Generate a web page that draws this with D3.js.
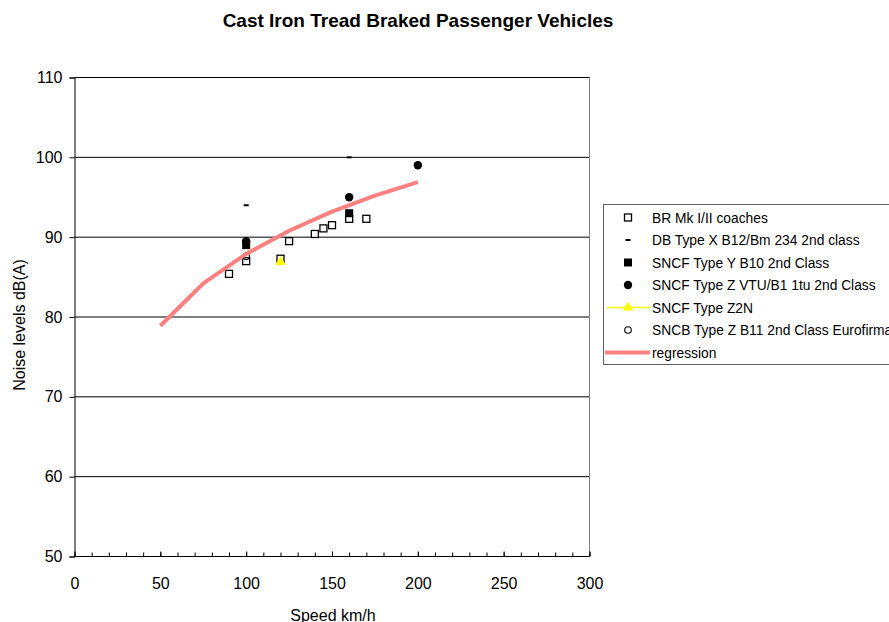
<!DOCTYPE html>
<html>
<head>
<meta charset="utf-8">
<script src="https://cdn.jsdelivr.net/npm/d3@7"></script>
<style>
  html, body { margin: 0; padding: 0; background: #fff; }
  svg { display: block; font-family: "Liberation Sans", Arial, sans-serif; }
</style>
</head>
<body>
<svg id="chart" width="889" height="622"></svg>
<script>
// Measured pass-by noise of cast-iron tread braked coaches (speed km/h, dB(A))
const brMk = [[90, 85.4], [100, 87.0], [120, 87.3], [125, 89.5], [140, 90.4], [145, 91.1], [150, 91.5], [160, 92.3], [170, 92.3]];
const dbTypeX = [[100, 94.0], [160, 100.0]];
const sncfTypeY = [[100, 89.0], [160, 93.0]];
const sncfTypeZ = [[100, 89.5], [160, 95.0], [200, 99.0]];
const sncfZ2N = [[120, 86.9]];
const sncbTypeZ = [[100, 87.6]];
const regression = [[50, 78.9], [75, 84.2], [100, 87.9], [125, 90.8], [150, 93.2], [175, 95.2], [200, 96.9]];

const xTicks = [0, 50, 100, 150, 200, 250, 300];
const xMinor = d3.range(0, 301, 10);
const yTicks = [50, 60, 70, 80, 90, 100, 110];

const legendNames = [
  "BR Mk I/II coaches",
  "DB Type X B12/Bm 234 2nd class",
  "SNCF Type Y B10 2nd Class",
  "SNCF Type Z VTU/B1 1tu 2nd Class",
  "SNCF Type Z2N",
  "SNCB Type Z B11 2nd Class Eurofirma",
  "regression"
];

const svg = d3.select("#chart");
const x = d3.scaleLinear().domain([0, 300]).range([74.5, 589.5]);
const y = d3.scaleLinear().domain([50, 110]).range([556.5, 77.5]);

// Title
svg.append("text")
  .attr("x", 418).attr("y", 27)
  .attr("text-anchor", "middle")
  .attr("font-size", 19).attr("font-weight", "bold")
  .text("Cast Iron Tread Braked Passenger Vehicles");

// Horizontal gridlines
svg.append("g")
  .selectAll("line")
  .data(yTicks.filter(d => d > 50))
  .join("line")
  .attr("x1", x(0)).attr("x2", x(300))
  .attr("y1", d => y(d)).attr("y2", d => y(d))
  .attr("stroke", "#000").attr("stroke-width", 1);

// Right edge of the plot area
svg.append("line")
  .attr("x1", x(300)).attr("x2", x(300))
  .attr("y1", y(110)).attr("y2", y(50))
  .attr("stroke", "#808080").attr("stroke-width", 1);

// Y axis
const yAxis = d3.axisLeft(y).tickValues(yTicks).tickSize(5).tickPadding(7).tickFormat(d3.format("d"));
const gy = svg.append("g").attr("transform", `translate(${x(0)},0)`).call(yAxis);
gy.select(".domain").attr("stroke", "#000");
gy.selectAll(".tick text").attr("font-size", 16).attr("fill", "#000")
  .attr("font-family", "'Liberation Sans', Arial, sans-serif");

// X axis: minor ticks every 10, labels every 50, ticks pointing inward
const gxMinor = svg.append("g").attr("transform", `translate(0,${y(50)})`)
  .call(d3.axisBottom(x).tickValues(xMinor).tickSize(-4).tickFormat(""));
gxMinor.select(".domain").remove();
const gx = svg.append("g").attr("transform", `translate(0,${y(50)})`)
  .call(d3.axisBottom(x).tickValues(xTicks).tickSize(-5).tickPadding(21).tickFormat(d3.format("d")));
gx.select(".domain").attr("stroke", "#000").attr("d", `M${x(0)},0H${x(300)}`);
gx.selectAll(".tick text").attr("font-size", 16).attr("fill", "#000")
  .attr("font-family", "'Liberation Sans', Arial, sans-serif");

// Axis titles
svg.append("text")
  .attr("transform", `translate(25,${(y(50) + y(110)) / 2 + 8}) rotate(-90)`)
  .attr("text-anchor", "middle")
  .attr("font-size", 16)
  .text("Noise levels dB(A)");
svg.append("text")
  .attr("x", 333).attr("y", 621)
  .attr("text-anchor", "middle")
  .attr("font-size", 16)
  .text("Speed km/h");

// Marker painters
const markers = {
  openSquare: (g, cx, cy) => g.append("rect").attr("x", cx - 3.5).attr("y", cy - 3.5)
    .attr("width", 7).attr("height", 7).attr("fill", "#fff").attr("stroke", "#000").attr("stroke-width", 1.3),
  dash: (g, cx, cy) => g.append("rect").attr("x", cx - 2.5).attr("y", cy - 1)
    .attr("width", 5).attr("height", 2).attr("fill", "#000"),
  filledSquare: (g, cx, cy) => g.append("rect").attr("x", cx - 4).attr("y", cy - 4)
    .attr("width", 8).attr("height", 8).attr("fill", "#000"),
  filledCircle: (g, cx, cy) => g.append("circle").attr("cx", cx).attr("cy", cy).attr("r", 4.2).attr("fill", "#000"),
  triangle: (g, cx, cy) => g.append("path")
    .attr("d", d3.symbol(d3.symbolTriangle, 48)())
    .attr("transform", `translate(${cx},${cy})`).attr("fill", "#ffff00"),
  openCircle: (g, cx, cy) => g.append("circle").attr("cx", cx).attr("cy", cy).attr("r", 3.3)
    .attr("fill", "none").attr("stroke", "#000").attr("stroke-width", 1.1)
};

const series = [
  { data: brMk, marker: "openSquare" },
  { data: dbTypeX, marker: "dash" },
  { data: sncfTypeY, marker: "filledSquare" },
  { data: sncfTypeZ, marker: "filledCircle" },
  { data: sncfZ2N, marker: "triangle" },
  { data: sncbTypeZ, marker: "openCircle" }
];

const pts = svg.append("g");
series.forEach(s => {
  s.data.forEach(([sx, sy]) => markers[s.marker](pts, x(sx), y(sy)));
});

// Regression curve
const line = d3.line().x(d => x(d[0])).y(d => y(d[1]));
svg.append("path")
  .datum(regression)
  .attr("d", line)
  .attr("fill", "none")
  .attr("stroke", "#ff8080")
  .attr("stroke-width", 4)
  .attr("stroke-linejoin", "round");

// Legend
const lg = svg.append("g");
lg.append("rect")
  .attr("x", 603.5).attr("y", 204.5).attr("width", 320).attr("height", 160)
  .attr("fill", "#fff").attr("stroke", "#606060").attr("stroke-width", 1);
const rowY = i => 217.5 + i * 22.5;
legendNames.forEach((name, i) => {
  const cy = rowY(i);
  if (i < 6) {
    if (series[i].marker === "triangle") {
      lg.append("line").attr("x1", 607).attr("x2", 650).attr("y1", cy).attr("y2", cy)
        .attr("stroke", "#ffff00").attr("stroke-width", 1.5);
    }
    markers[series[i].marker](lg, 628, cy);
  } else {
    lg.append("line").attr("x1", 605).attr("x2", 650).attr("y1", cy).attr("y2", cy)
      .attr("stroke", "#ff8080").attr("stroke-width", 4);
  }
  lg.append("text")
    .attr("x", 652).attr("y", cy + 5)
    .attr("font-size", 13.8)
    .text(name);
});
</script>
</body>
</html>
